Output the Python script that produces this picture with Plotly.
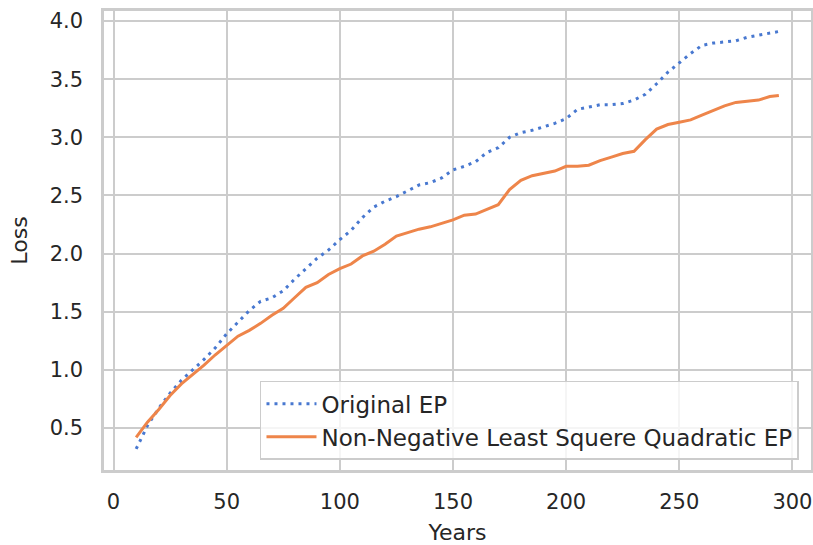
import plotly.graph_objects as go

# Return period (years) at which each loss estimate is evaluated
years = [10, 15, 20, 25, 30, 35, 40, 45, 50, 55, 60, 65, 70, 75, 80, 85, 90, 95,
         100, 105, 110, 115, 120, 125, 130, 135, 140, 145, 150, 155, 160, 165,
         170, 175, 180, 185, 190, 195, 200, 205, 210, 215, 220, 225, 230, 235,
         240, 245, 250, 255, 260, 265, 270, 275, 280, 285, 290, 294]

# Original exceedance-probability loss curve
original_ep = [0.32, 0.52, 0.67, 0.80, 0.91, 1.00, 1.09, 1.19, 1.31, 1.41, 1.51,
               1.59, 1.62, 1.68, 1.78, 1.87, 1.96, 2.03, 2.12, 2.20, 2.31, 2.40,
               2.45, 2.49, 2.54, 2.59, 2.61, 2.65, 2.72, 2.75, 2.79, 2.87, 2.91,
               3.00, 3.04, 3.06, 3.09, 3.12, 3.16, 3.24, 3.26, 3.28, 3.28, 3.29,
               3.32, 3.37, 3.46, 3.56, 3.64, 3.72, 3.79, 3.81, 3.82, 3.83, 3.86,
               3.88, 3.90, 3.91]

# Non-negative least squares quadratic fit of the EP curve
nnls_quadratic_ep = [0.42, 0.55, 0.66, 0.78, 0.88, 0.96, 1.04, 1.13, 1.21, 1.29,
                     1.34, 1.40, 1.47, 1.53, 1.62, 1.71, 1.75, 1.82, 1.87, 1.91,
                     1.98, 2.02, 2.08, 2.15, 2.18, 2.21, 2.23, 2.26, 2.29, 2.33,
                     2.34, 2.38, 2.42, 2.55, 2.63, 2.67, 2.69, 2.71, 2.75, 2.75,
                     2.76, 2.80, 2.83, 2.86, 2.88, 2.98, 3.07, 3.11, 3.13, 3.15,
                     3.19, 3.23, 3.27, 3.30, 3.31, 3.32, 3.35, 3.36]

x_ticks = [0, 50, 100, 150, 200, 250, 300]
y_ticks = [0.5, 1.0, 1.5, 2.0, 2.5, 3.0, 3.5, 4.0]

BLUE = "#4878d0"
ORANGE = "#ee854a"
GRID = "#cccccc"
TEXT = "#262626"
FONT = "DejaVu Sans"

fig = go.Figure()
fig.add_trace(go.Scatter(
    x=years, y=original_ep, mode="lines", name="Original EP",
    line=dict(color=BLUE, width=3, dash="3px,5px"),
))
fig.add_trace(go.Scatter(
    x=years, y=nnls_quadratic_ep, mode="lines",
    name="Non-Negative Least Squere Quadratic EP",
    line=dict(color=ORANGE, width=3),
))

axis_common = dict(
    showgrid=True, gridcolor=GRID, gridwidth=2,
    showline=True, linecolor=GRID, linewidth=2.5, mirror=True,
    zeroline=False, ticks="",
    tickfont=dict(family=FONT, size=21, color=TEXT),
)

fig.update_xaxes(
    range=[-4.2, 308.2], tickvals=x_ticks,
    ticktext=[str(v) for v in x_ticks],
    title=dict(text="Years", font=dict(family=FONT, size=22, color=TEXT), standoff=13),
    ticklabelstandoff=11,
    **axis_common,
)
fig.update_yaxes(
    range=[0.139, 4.086], tickvals=y_ticks,
    ticktext=[f"{v:.1f}" for v in y_ticks],
    title=dict(text="Loss", font=dict(family=FONT, size=22, color=TEXT), standoff=16),
    ticklabelstandoff=14,
    **axis_common,
)

fig.update_layout(
    width=813, height=545,
    margin=dict(l=104, r=2, t=11, b=75, autoexpand=False),
    paper_bgcolor="white", plot_bgcolor="white",
    font=dict(family=FONT, color=TEXT),
    showlegend=True,
    legend=dict(
        x=0.983, y=0.022, xanchor="right", yanchor="bottom",
        bgcolor="rgba(255,255,255,0.8)", bordercolor=GRID, borderwidth=1.5,
        font=dict(family=FONT, size=23, color=TEXT),
        itemwidth=50, tracegroupgap=0,
    ),
)

fig.write_html("out.html")
